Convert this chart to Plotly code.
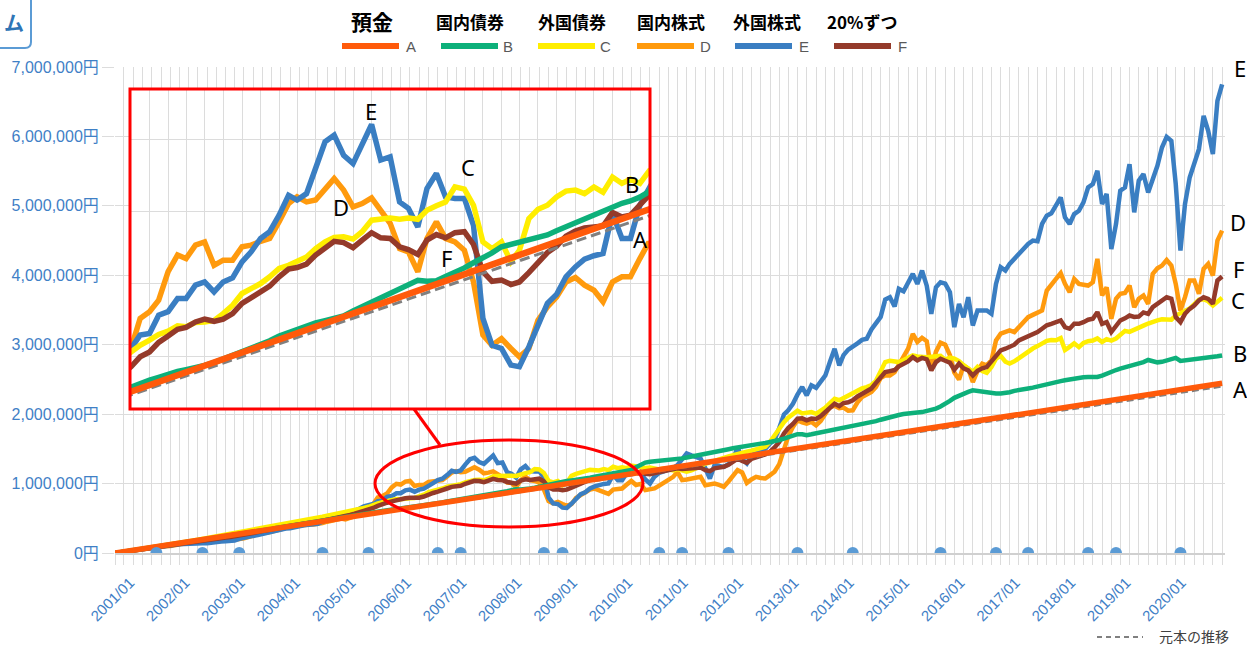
import plotly.graph_objects as go
import pandas as pd

# ---------------- data (values in 万円 = 10,000 yen) ----------------
months = pd.date_range("2001-01-01", "2021-01-01", freq="MS")   # 241 monthly points
years = pd.date_range("2001-01-01", "2021-01-01", freq="YS")    # 21 yearly points

principal = [0, 12, 24, 36, 48, 60, 72, 84, 96, 108, 120, 132, 144, 156, 168, 180,
             192, 204, 216, 228, 240]
deposit_A = [0, 12.2, 24.4, 36.7, 48.9, 61.1, 73.3, 85.5, 97.8, 110.0, 122.2, 134.4,
             146.6, 158.9, 171.1, 183.3, 195.5, 207.7, 219.9, 232.2, 244.4]

bond_jp_B = [
    0, 1.0, 2.0, 3.0, 4.0, 5.1, 6.1, 7.1, 8.1, 9.1, 10.1, 11.1,
    12.1, 13.1, 14.1, 15.2, 16.2, 17.2, 18.4, 19.4, 20.4, 21.4, 22.4, 23.5,
    24.5, 25.5, 26.5, 27.5, 28.6, 29.6, 30.6, 31.6, 32.6, 33.7, 34.7, 36.1,
    37.1, 38.1, 39.1, 40.2, 41.2, 42.2, 43.3, 44.3, 45.8, 46.8, 47.8, 48.9,
    49.9, 51.0, 52.0, 53.0, 54.1, 55.1, 56.2, 57.5, 58.5, 59.5, 60.6, 61.5,
    62.6, 63.3, 63.9, 64.4, 65.2, 66.1, 67.2, 68.2, 69.7, 70.8, 71.8, 72.9,
    74.4, 75.5, 76.5, 77.8, 78.5, 79.2, 79.8, 80.7, 82.2, 83.5, 84.9, 86.1,
    87.5, 88.9, 90.3, 91.8, 91.5, 91.7, 93.0, 94.2, 95.7, 97.3, 98.8, 100.4,
    102.3, 103.0, 103.7, 104.6, 105.3, 106.0, 107.3, 108.6, 109.9, 111.1, 112.1, 113.4,
    114.9, 115.9, 116.6, 117.8, 119.5, 123.5, 127.5, 130.2, 131.3, 132.0, 132.7, 133.0,
    133.4, 133.7, 135.0, 136.3, 137.6, 138.8, 139.9, 141.0, 142.0, 143.5, 145.2, 146.8,
    148.1, 149.5, 150.8, 152.2, 153.4, 154.5, 155.6, 156.6, 157.5, 158.5, 159.4, 160.8,
    162.8, 164.8, 166.8, 169.0, 171.2, 171.0, 169.8, 171.0, 172.3, 173.6, 175.0, 176.3,
    177.6, 178.9, 180.4, 181.6, 183.0, 184.3, 185.6, 186.9, 188.3, 190.0, 192.0, 194.0,
    196.0, 197.4, 198.8, 200.1, 201.3, 201.9, 202.5, 203.0, 204.3, 205.8, 208.0, 211.0,
    214.5, 219.0, 223.5, 226.8, 229.8, 232.0, 234.3, 233.2, 232.0, 231.0, 230.4, 229.8,
    229.6, 230.3, 231.5, 233.5, 235.1, 236.0, 237.0, 238.2, 239.5, 241.0, 242.5, 244.1,
    245.8, 247.5, 248.8, 250.2, 251.4, 252.3, 253.2, 253.6, 253.5, 253.5, 255.5, 258.5,
    261.5, 263.6, 265.6, 267.4, 269.0, 270.6, 272.4, 275.0, 278.0, 276.5, 274.6, 275.3,
    276.8, 278.0, 281.0, 276.6, 277.3, 278.0, 278.6, 279.5, 280.6, 281.6, 282.4, 283.4,
    284.6]

bond_fx_C = [
    0, 1.0, 2.0, 3.1, 4.1, 5.2, 6.3, 7.2, 8.4, 9.4, 10.6, 12.0,
    13.0, 13.9, 14.8, 15.8, 17.0, 17.9, 19.3, 20.5, 21.4, 22.9, 24.2, 25.3,
    26.9, 28.0, 29.4, 30.5, 31.9, 33.4, 34.5, 35.0, 36.5, 37.0, 38.4, 39.6,
    41.0, 42.2, 42.9, 44.5, 46.0, 47.6, 48.7, 49.5, 51.0, 52.2, 53.8, 55.0,
    56.2, 57.8, 58.5, 60.2, 61.9, 63.1, 64.8, 66.6, 69.4, 71.5, 73.1, 74.9,
    75.9, 77.6, 77.3, 78.6, 78.8, 79.3, 81.4, 84.0, 87.7, 89.2, 90.8, 92.9,
    95.5, 96.5, 97.6, 99.1, 101.7, 103.8, 105.2, 105.4, 104.7, 107.0, 110.6, 110.8,
    111.3, 110.9, 111.3, 110.9, 113.7, 115.1, 116.3, 121.0, 120.3, 115.3, 103.8, 101.7,
    103.8, 97.6, 101.2, 111.1, 114.0, 115.3, 117.9, 119.7, 120.0, 118.9, 121.0, 119.3,
    124.1, 122.1, 123.4, 122.1, 125.9, 124.5, 124.0, 122.5, 123.0, 121.5, 120.5, 121.5,
    119.5, 119.0, 121.0, 118.5, 117.0, 119.0, 121.5, 125.0, 128.5, 131.0, 132.5, 134.5,
    137.0, 139.0, 141.0, 143.0, 144.5, 146.0, 147.5, 149.0, 150.5, 153.0, 160.0, 170.0,
    180.5, 188.5, 195.0, 200.0, 205.0, 201.0, 202.5, 203.0, 200.5, 205.0, 209.5, 216.0,
    222.0, 220.0, 223.5, 227.0, 231.0, 235.0, 237.0, 239.0, 242.0, 248.0, 262.0, 275.0,
    277.0, 276.5, 275.0, 278.0, 281.0, 284.5, 283.0, 282.0, 282.0, 282.5, 283.0, 284.0,
    278.5, 281.5, 280.0, 276.5, 270.5, 265.5, 261.0, 268.0, 262.0, 259.5, 268.0, 280.0,
    284.0, 275.5, 273.0, 276.0, 281.0, 285.5, 290.0, 294.5, 298.0, 302.5, 305.5, 306.8,
    306.5, 309.5, 292.5, 297.0, 302.0, 296.5, 302.5, 305.0, 306.0, 309.0, 304.0, 308.0,
    306.0, 309.0, 314.0, 320.0, 318.5, 322.0, 325.5, 327.5, 330.5, 333.5, 335.0, 336.5,
    337.0, 336.0, 342.0, 344.5, 348.5, 352.0, 358.0, 365.0, 365.5, 362.5, 356.5, 361.5,
    367.5]

stock_jp_D = [
    0, 1.0, 1.9, 3.1, 4.2, 5.0, 5.8, 6.3, 6.6, 7.7, 8.8, 9.6,
    10.2, 11.7, 13.0, 14.1, 14.7, 14.6, 15.3, 15.2, 16.0, 17.0, 17.2, 17.5,
    18.0, 18.3, 18.5, 20.0, 21.3, 23.2, 25.5, 26.4, 28.8, 29.0, 30.6, 32.2,
    33.5, 35.9, 38.8, 40.6, 39.2, 41.0, 41.2, 40.9, 41.4, 43.2, 45.1, 47.0,
    48.0, 49.5, 48.5, 50.5, 52.5, 55.1, 59.4, 63.8, 70.5, 79.9, 82.0, 85.6,
    94.5, 99.7, 98.6, 102.8, 103.8, 96.5, 98.1, 98.1, 102.3, 102.8, 104.0, 104.9,
    110.1, 115.8, 117.9, 116.3, 116.9, 120.5, 123.6, 120.0, 114.8, 115.8, 117.6, 113.7,
    109.6, 101.7, 100.7, 94.5, 104.9, 110.1, 104.9, 103.8, 101.2, 91.3, 74.7, 71.5,
    73.6, 70.5, 67.9, 70.5, 79.3, 83.5, 86.6, 91.3, 92.7, 90.3, 88.7, 85.1,
    91.3, 92.9, 92.9, 98.6, 103.8, 98.0, 99.5, 90.6, 91.5, 93.0, 97.0, 101.5,
    105.5, 109.7, 116.9, 105.0, 106.0, 107.3, 108.5, 109.7, 97.7, 99.0, 100.1, 98.0,
    95.3, 103.0, 111.0, 119.3, 116.0, 101.0, 106.0, 109.7, 108.0, 107.3, 112.1, 117.0,
    128.0, 150.0, 168.0, 181.6, 191.2, 188.0, 186.4, 188.8, 184.0, 190.0, 200.0, 210.3,
    212.0, 208.5, 209.5, 205.0, 205.5, 217.0, 224.7, 227.5, 232.0, 239.1, 252.0, 256.0,
    255.8, 260.5, 270.0, 283.0, 294.2, 315.7, 304.0, 310.0, 305.0, 263.0, 290.0, 303.0,
    300.0, 285.0, 260.0, 250.0, 270.0, 265.4, 246.3, 262.0, 272.7, 270.2, 277.4, 306.2,
    315.8, 318.2, 320.6, 318.2, 325.0, 333.0, 339.7, 343.0, 345.5, 349.3, 378.1, 387.6,
    394.8, 403.0, 387.6, 375.7, 394.8, 387.6, 386.0, 385.2, 390.0, 423.6, 370.9, 382.8,
    337.3, 366.1, 373.3, 374.5, 385.2, 354.1, 366.1, 370.9, 358.9, 402.0, 410.0, 414.0,
    422.1, 414.0, 387.6, 349.3, 368.5, 392.4, 392.4, 373.3, 409.2, 416.4, 399.6, 449.9,
    464.3]

stock_fx_E = [
    0, 1.0, 1.9, 2.8, 3.9, 4.9, 5.6, 6.4, 6.7, 7.9, 9.0, 10.1,
    10.8, 11.4, 12.6, 12.9, 13.6, 13.6, 13.5, 14.1, 14.0, 15.3, 16.3, 16.6,
    17.0, 17.5, 17.9, 20.3, 22.1, 23.2, 24.6, 25.7, 27.5, 29.0, 30.6, 32.2,
    33.8, 35.2, 35.7, 37.8, 38.4, 39.8, 40.7, 40.9, 42.2, 45.0, 47.8, 50.3,
    50.4, 52.9, 56.0, 57.6, 60.8, 63.6, 67.0, 68.2, 70.5, 74.7, 75.2, 80.9,
    82.0, 86.1, 86.1, 90.3, 91.3, 88.2, 91.3, 92.6, 97.6, 100.7, 104.9, 107.0,
    112.2, 118.4, 116.9, 118.9, 127.3, 135.1, 137.2, 130.9, 128.3, 134.0, 140.5, 129.4,
    130.4, 116.3, 114.3, 108.5, 120.5, 125.2, 117.9, 117.4, 117.4, 109.0, 79.9, 71.5,
    70.5, 65.3, 64.8, 71.0, 77.3, 84.6, 87.4, 92.9, 96.0, 98.4, 99.5, 100.2,
    112.7, 104.9, 104.9, 115.3, 120.5, 116.0, 114.5, 106.0, 100.1, 110.0, 115.5, 117.5,
    119.3, 122.5, 126.5, 136.0, 143.3, 140.5, 138.5, 136.1, 122.0, 107.3, 126.5, 125.0,
    124.1, 128.0, 133.7, 152.8, 135.0, 128.9, 140.0, 145.0, 147.0, 150.0, 157.6, 163.0,
    180.0, 199.5, 205.5, 215.0, 228.0, 239.1, 227.1, 241.5, 238.0, 246.0, 255.8, 275.0,
    294.2, 270.2, 285.0, 293.0, 296.6, 302.0, 307.0, 308.5, 322.0, 330.0, 340.0, 365.0,
    368.4, 355.0, 380.4, 377.0, 388.0, 402.0, 387.6, 406.8, 385.0, 344.5, 382.8, 390.0,
    388.0, 375.6, 325.3, 358.8, 339.7, 368.4, 327.7, 349.3, 349.3, 349.3, 344.5, 387.6,
    411.6, 406.8, 416.4, 423.6, 431.0, 438.0, 445.1, 449.9, 449.0, 473.9, 485.8, 489.2,
    500.0, 512.2, 483.5, 473.9, 488.2, 493.0, 505.0, 526.6, 531.4, 550.5, 502.6, 517.0,
    437.9, 473.9, 521.8, 526.6, 560.1, 490.6, 536.2, 545.7, 519.4, 538.5, 557.7, 584.1,
    599.4, 593.6, 531.4, 435.5, 502.6, 540.9, 560.1, 581.7, 629.6, 608.0, 574.5, 651.1,
    675.1]

mix_F = [
    0, 1.0, 2.0, 3.0, 4.1, 5.0, 6.0, 6.8, 7.6, 8.7, 9.7, 10.8,
    11.7, 12.7, 13.8, 14.6, 15.5, 16.1, 17.0, 17.7, 18.4, 19.6, 20.5, 21.2,
    22.2, 22.9, 23.8, 25.2, 26.5, 27.8, 29.2, 30.1, 31.6, 32.5, 33.8, 35.1,
    36.4, 37.8, 39.1, 40.5, 41.1, 42.5, 43.3, 43.8, 45.0, 46.6, 48.3, 49.8,
    50.7, 52.2, 53.2, 54.7, 56.5, 58.2, 60.5, 62.4, 64.8, 67.9, 69.4, 72.4,
    74.4, 76.5, 77.1, 78.8, 79.7, 79.0, 79.7, 81.4, 84.6, 86.4, 88.4, 90.0,
    92.9, 95.3, 95.8, 96.9, 99.7, 102.0, 104.0, 103.6, 102.0, 104.4, 106.7, 105.1,
    104.9, 102.3, 101.4, 99.9, 104.4, 106.1, 105.1, 106.7, 107.0, 103.0, 94.5, 91.5,
    91.9, 90.5, 91.3, 94.2, 97.1, 100.5, 102.5, 105.6, 107.2, 108.2, 108.5, 108.8,
    113.0, 111.6, 112.2, 115.1, 118.4, 115.5, 117.0, 114.0, 113.5, 115.0, 116.5, 117.5,
    118.0, 119.5, 122.0, 121.0, 122.0, 122.5, 122.5, 123.0, 119.3, 118.0, 122.0, 123.0,
    124.1, 127.0, 130.5, 136.0, 132.5, 130.0, 135.5, 138.5, 140.0, 142.0, 146.0, 152.0,
    160.0, 172.0, 180.0, 186.0, 193.6, 194.0, 191.2, 193.6, 193.0, 197.0, 203.1, 209.0,
    215.0, 211.5, 216.0, 217.0, 220.0, 225.5, 229.0, 231.9, 237.0, 245.0, 254.0, 260.6,
    262.0, 263.5, 269.0, 272.6, 276.0, 282.2, 277.4, 281.0, 279.0, 263.0, 275.0, 279.8,
    277.4, 274.0, 264.0, 272.6, 266.0, 263.0, 255.8, 262.5, 266.0, 267.8, 276.0, 285.0,
    291.8, 294.2, 297.0, 300.0, 306.2, 309.0, 312.5, 315.8, 318.2, 323.0, 328.0, 330.1,
    332.5, 334.9, 325.4, 323.0, 330.1, 330.1, 332.5, 336.0, 337.3, 346.9, 330.1, 332.5,
    318.2, 327.7, 334.9, 338.0, 342.0, 340.0, 340.5, 346.5, 344.5, 354.1, 359.0, 363.7,
    368.5, 366.1, 339.7, 332.5, 344.5, 351.7, 356.5, 363.7, 368.5, 366.1, 358.9, 392.4,
    398.2]

event_months = ["2001-10-01", "2002-08-01", "2003-04-01", "2004-10-01", "2005-08-01",
                "2006-11-01", "2007-04-01", "2008-10-01", "2009-02-01", "2010-11-01",
                "2011-04-01", "2012-02-01", "2013-05-01", "2014-05-01", "2015-12-01",
                "2016-12-01", "2017-07-01", "2018-08-01", "2019-02-01", "2020-04-01"]

tick_dates = ["%d-01-01" % y for y in range(2001, 2021)]
tick_text = ["2001/01", "2002/01", "2003/01", "2004/01", "2005/01", "2006/01", "2007/01",
             "2008/01", "2009/01", "2010/01", "2011/01", "2012/01", "2013/01", "2014/01",
             "2015/01", "2016/01", "2017/01", "2018/01", "2019/01", "2020/01"]

category_names = ["預金", "国内債券", "外国債券", "国内株式", "外国株式", "20%ずつ"]
letters = ["A", "B", "C", "D", "E", "F"]

YEN = 10000  # 万円 -> 円

# ---------------- styling ----------------
COL = {"A": "#FF5A0A", "B": "#0DB07A", "C": "#FFEE00", "D": "#FF9A0D",
       "E": "#3A7EC2", "F": "#943A2A"}
GRID = "#DCDCDC"
BLUE_TXT = "#3F80C6"

W, H = 1247, 647
L, R, T, B = 115, 22, 67, 94
PW, PH = W - L - R, H - T - B


def px(x):
    return (x - L) / PW


def py(y):
    return (H - B - y) / PH


def yen(vals):
    return [v * YEN for v in vals]


fig = go.Figure()

monthly = [("D", stock_jp_D), ("E", stock_fx_E), ("C", bond_fx_C), ("F", mix_F), ("B", bond_jp_B)]

for axes, wid, dash, dwid in (("main", 4.5, "7px,4px", 2.5), ("inset", 5.5, "10px,5px", 3)):
    xa, ya = ("x", "y") if axes == "main" else ("x2", "y2")
    for key, vals in monthly:
        fig.add_trace(go.Scatter(x=months, y=yen(vals), mode="lines", name=key,
                                 line=dict(color=COL[key], width=wid),
                                 xaxis=xa, yaxis=ya, hoverinfo="skip"))
    fig.add_trace(go.Scatter(x=years, y=yen(principal), mode="lines", name="元本の推移",
                             line=dict(color="#808080", width=dwid, dash=dash),
                             xaxis=xa, yaxis=ya, hoverinfo="skip"))
    fig.add_trace(go.Scatter(x=years, y=yen(deposit_A), mode="lines", name="A",
                             line=dict(color=COL["A"], width=wid + 1),
                             xaxis=xa, yaxis=ya, hoverinfo="skip"))

fig.add_trace(go.Scatter(x=event_months, y=[0] * len(event_months), mode="markers",
                         marker=dict(size=12, color="#5B9BD5"), cliponaxis=True,
                         hoverinfo="skip"))

shapes = []
# white background of the inset: drawn on the main subplot between its grid and traces
shapes.append(dict(type="rect", xref="x", yref="y",
                   x0="2001-04-08", x1="2010-09-01",
                   y0=(H - B - 409) * 7000000 / PH, y1=(H - B - 89) * 7000000 / PH,
                   fillcolor="white", line=dict(width=0), layer="between"))
# red inset frame
shapes.append(dict(type="rect", xref="paper", yref="paper",
                   x0=px(130), x1=px(650), y0=py(409), y1=py(89),
                   line=dict(color="#FF0000", width=3), layer="above"))
# red ellipse
shapes.append(dict(type="circle", xref="paper", yref="paper",
                   x0=px(375), x1=px(643), y0=py(527), y1=py(440),
                   line=dict(color="#FF0000", width=3), layer="above"))
# connector
shapes.append(dict(type="line", xref="paper", yref="paper",
                   x0=px(414), y0=py(409), x1=px(440), y1=py(445),
                   line=dict(color="#FF0000", width=3), layer="above"))
# legend lines
leg_x = [342, 441, 538, 637, 735, 834]
for lx, k in zip(leg_x, letters):
    shapes.append(dict(type="line", xref="paper", yref="paper",
                       x0=px(lx), x1=px(lx + 57), y0=py(46), y1=py(46),
                       line=dict(color=COL[k], width=6), layer="above"))
shapes.append(dict(type="line", xref="paper", yref="paper",
                   x0=px(1097), x1=px(1143), y0=py(637), y1=py(637),
                   line=dict(color="#808080", width=2, dash="5px,4px"), layer="above"))
# corner box
shapes.append(dict(type="path", xref="paper", yref="paper", layer="above",
                   path=(f"M {px(-8)},{py(-8)} L {px(31)},{py(-8)} L {px(31)},{py(42)} "
                         f"Q {px(31)},{py(48)} {px(25)},{py(48)} L {px(-8)},{py(48)} Z"),
                   line=dict(color="#5B9BD5", width=2)))

ann = []


def text(x, y, s, size, color="#000000", family="Noto Sans", anchor="center"):
    ann.append(dict(x=px(x), y=py(y), xref="paper", yref="paper", text=s,
                    showarrow=False, xanchor=anchor, yanchor="middle",
                    font=dict(size=size, color=color, family=family)))


cjk = "Noto Sans CJK JP"
label_x = [372, 470, 572, 671, 767, 862]
for i, (lx, nm) in enumerate(zip(label_x, category_names)):
    text(lx, 21, "<b>%s</b>" % nm, 21 if i == 0 else 17, family=cjk)
letter_x = [411, 508, 605, 705, 804, 902]
for lx, k in zip(letter_x, letters):
    text(lx, 47, k, 15, color="#595959", family="Liberation Sans, Arial")
text(1157, 636, "元本の推移", 14, color="#404040", family=cjk, anchor="left")

end_pos = {"E": (1240, 68), "D": (1238, 222), "F": (1238, 269), "C": (1238, 300),
           "B": (1240, 353), "A": (1240, 389)}
for k, (ex, ey) in end_pos.items():
    text(ex, ey, k, 22)
inset_pos = {"E": (371, 111), "D": (341, 207), "C": (468, 167), "F": (446, 258),
             "B": (632, 184), "A": (640, 239)}
for k, (ex, ey) in inset_pos.items():
    text(ex, ey, k, 22)
text(14, 22, "<b>ム</b>", 20, color="#2E75B6", family=cjk)

fig.update_layout(
    width=W, height=H, template="none",
    margin=dict(l=L, r=R, t=T, b=B, pad=0),
    paper_bgcolor="white", plot_bgcolor="white",
    showlegend=False, hovermode=False,
    shapes=shapes, annotations=ann,
    xaxis=dict(type="date", range=["2001-01-01", "2021-01-20"],
               tickmode="array", tickvals=tick_dates, ticktext=tick_text,
               tickangle=-45, tickfont=dict(size=15, color=BLUE_TXT,
                                            family="Liberation Sans, Arial"),
               ticklabelshift=15, ticklabelstandoff=3,
               showgrid=True, gridcolor=GRID, gridwidth=1,
               ticks="outside", ticklen=10, tickcolor=GRID,
               minor=dict(dtick="M2", tick0="2001-01-01", showgrid=True,
                          gridcolor=GRID, ticks="outside", ticklen=10, tickcolor=GRID),
               showline=True, linecolor="#D0D0D0", linewidth=2, zeroline=False),
    yaxis=dict(range=[0, 7000000], dtick=1000000, tickformat=",", ticksuffix="円",
               tickfont=dict(size=16, color=BLUE_TXT,
                             family="Liberation Sans, Arial, Noto Sans CJK JP"),
               showgrid=True, gridcolor=GRID, ticks="outside", ticklen=12,
               tickcolor=GRID, zeroline=False, showline=False),
    xaxis2=dict(type="date", domain=[px(131), px(649)], anchor="y2",
                range=["2005-09-01", "2010-05-01"], dtick="M2", tick0="2005-09-01",
                showticklabels=False, showgrid=True, gridcolor=GRID, ticks="",
                zeroline=False, showline=False),
    yaxis2=dict(domain=[py(408), py(90)], anchor="x2", range=[519000, 1513000],
                tick0=681000, dtick=226000, showticklabels=False, showgrid=True,
                gridcolor=GRID, ticks="", zeroline=False, showline=False),
)

fig.write_html("out.html", config={"displayModeBar": False},
               post_script="document.body.style.margin='0px';document.body.style.padding='0px';")
